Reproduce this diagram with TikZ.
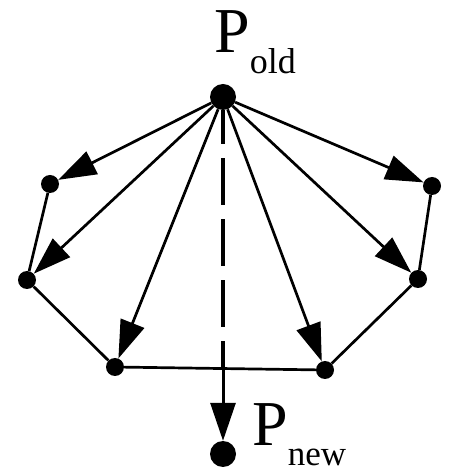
\documentclass[tikz,border=0pt]{standalone}
\usepackage{fontspec}
\setmainfont{Liberation Serif}
\usetikzlibrary{arrows.meta}
\begin{document}
\begin{tikzpicture}[x=1pt,y=1pt,
  bigdot/.style={circle,fill=black,inner sep=0pt,minimum size=26pt},
  smalldot/.style={circle,fill=black,inner sep=0pt,minimum size=18pt},
  edge/.style={line width=2.7pt},
  ray/.style={line width=2.7pt,-{Triangle[length=38pt,width=25pt]}},
  lbl/.style={inner sep=0pt,anchor=base west}]
\useasboundingbox (0,0) rectangle (456,474);

% old and new points
\node[bigdot] (po) at (223,377) {};
\node[bigdot] (pn) at (223,20) {};

% polygon vertices
\node[smalldot] (v1) at (50,290) {};
\node[smalldot] (v2) at (27,194) {};
\node[smalldot] (v3) at (115,107) {};
\node[smalldot] (v4) at (325,104) {};
\node[smalldot] (v5) at (418,195) {};
\node[smalldot] (v6) at (432,288) {};

% labels
\node[lbl] (lold) at (214,421) {\fontsize{64}{64}\selectfont P\raisebox{-21pt}{\fontsize{36}{36}\selectfont old}};
\node[lbl] (lnew) at (252,28) {\fontsize{64}{64}\selectfont P\raisebox{-20pt}{\fontsize{35}{35}\selectfont new}};

% polygon edges
\draw[edge] (v1) -- (v2) -- (v3) -- (v4) -- (v5) -- (v6);

% rays from the old point to the vertices
\foreach \v in {v1,v2,v3,v4,v5,v6}
  \draw[ray] (po) -- (\v);

% displacement towards the new point
\coordinate (cross) at (po |- v3);
\draw[line width=3.5pt,dash pattern=on 47pt off 14pt,dash phase=13pt] (po) -- (cross);
\draw[line width=3pt,-{Triangle[length=38pt,width=25pt]}] (cross) -- (pn);
\end{tikzpicture}
\end{document}
